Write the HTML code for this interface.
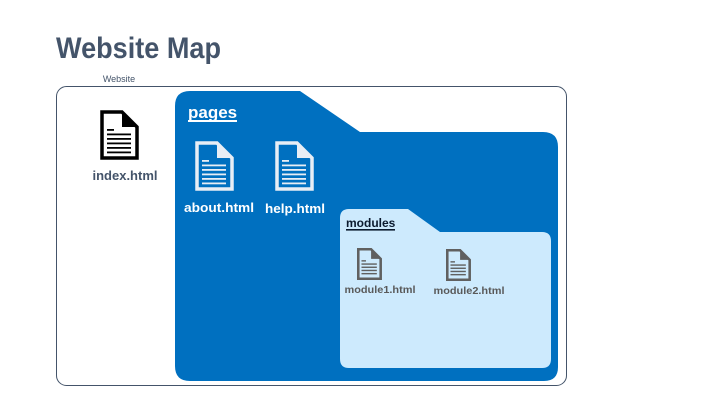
<!DOCTYPE html>
<html><head><meta charset="utf-8"><style>
html,body{margin:0;padding:0;background:#fff;width:720px;height:405px;overflow:hidden}
svg{display:block}
text{font-family:"Liberation Sans",sans-serif;font-weight:bold}
</style></head><body>
<svg width="720" height="405" viewBox="0 0 720 405" xmlns="http://www.w3.org/2000/svg">
<text x="56" y="58" font-size="30" fill="#44546a" textLength="165" lengthAdjust="spacingAndGlyphs">Website Map</text>
<text x="119" y="82" font-size="9" fill="#44546a" text-anchor="middle" style="font-weight:normal">Website</text>
<rect x="56.5" y="86.5" width="510" height="299" rx="10" fill="#fff" stroke="#44546a" stroke-width="1"/>
<path d="M175,106 Q175,91 190,91 H300 L360,132 H543 Q558,132 558,147 V367 Q558,381 544,381 H190 Q175,381 175,366 Z" fill="#0070c0"/>
<text x="188" y="118" font-size="17" fill="#fff">pages</text>
<rect x="188" y="120" width="49" height="2" fill="#fff"/>
<path d="M340,218 Q340,209 349,209 H408 L440,232 H542 Q551,232 551,241 V359 Q551,368 542,368 H349 Q340,368 340,359 Z" fill="#cdeafd"/>
<text x="346" y="227" font-size="12" fill="#0b1a2e">modules</text>
<rect x="346" y="229" width="49" height="1.6" fill="#0b1a2e"/>

<g transform="translate(100,110)">
  <path d="M2,2 H22 L37,17 V48 H2 Z" fill="#fff" stroke="#000" stroke-width="3.5"/>
  <path d="M22,2 V17 H37 Z" fill="#000"/>
  <g fill="#000"><rect x="7" y="19" width="7" height="1.8"/><rect x="7" y="23.5" width="24" height="1.8"/><rect x="7" y="28" width="24" height="1.8"/><rect x="7" y="32.5" width="24" height="1.8"/><rect x="7" y="37" width="24" height="1.8"/><rect x="7" y="41.5" width="24" height="1.8"/></g>
</g>
<g transform="translate(195,141)">
  <path d="M2,2 H22 L37,17 V48 H2 Z" fill="#0070c0" stroke="#e8eef5" stroke-width="3.5"/>
  <path d="M22,2 V17 H37 Z" fill="#e8eef5"/>
  <g fill="#e8eef5"><rect x="7" y="19" width="7" height="1.8"/><rect x="7" y="23.5" width="24" height="1.8"/><rect x="7" y="28" width="24" height="1.8"/><rect x="7" y="32.5" width="24" height="1.8"/><rect x="7" y="37" width="24" height="1.8"/><rect x="7" y="41.5" width="24" height="1.8"/></g>
</g>
<g transform="translate(275,141)">
  <path d="M2,2 H22 L37,17 V48 H2 Z" fill="#0070c0" stroke="#e8eef5" stroke-width="3.5"/>
  <path d="M22,2 V17 H37 Z" fill="#e8eef5"/>
  <g fill="#e8eef5"><rect x="7" y="19" width="7" height="1.8"/><rect x="7" y="23.5" width="24" height="1.8"/><rect x="7" y="28" width="24" height="1.8"/><rect x="7" y="32.5" width="24" height="1.8"/><rect x="7" y="37" width="24" height="1.8"/><rect x="7" y="41.5" width="24" height="1.8"/></g>
</g>
<g transform="translate(357,248) scale(0.64)">
  <path d="M2,2 H22 L37,17 V48 H2 Z" fill="#cdeafd" stroke="#606060" stroke-width="4"/>
  <path d="M22,2 V17 H37 Z" fill="#606060"/>
  <g fill="#606060"><rect x="7" y="19" width="7" height="2.2"/><rect x="7" y="24" width="24" height="2.2"/><rect x="7" y="29" width="24" height="2.2"/><rect x="7" y="34" width="24" height="2.2"/><rect x="7" y="39" width="24" height="2.2"/></g>
</g>
<g transform="translate(446,249) scale(0.64)">
  <path d="M2,2 H22 L37,17 V48 H2 Z" fill="#cdeafd" stroke="#606060" stroke-width="4"/>
  <path d="M22,2 V17 H37 Z" fill="#606060"/>
  <g fill="#606060"><rect x="7" y="19" width="7" height="2.2"/><rect x="7" y="24" width="24" height="2.2"/><rect x="7" y="29" width="24" height="2.2"/><rect x="7" y="34" width="24" height="2.2"/><rect x="7" y="39" width="24" height="2.2"/></g>
</g>

<text x="125" y="180" font-size="13" fill="#44546a" text-anchor="middle">index.html</text>
<text x="219" y="212" font-size="13" fill="#fff" text-anchor="middle" textLength="70" lengthAdjust="spacingAndGlyphs">about.html</text>
<text x="295" y="213" font-size="13" fill="#fff" text-anchor="middle" textLength="60" lengthAdjust="spacingAndGlyphs">help.html</text>
<text x="380" y="293" font-size="10.5" fill="#595959" text-anchor="middle" textLength="71" lengthAdjust="spacingAndGlyphs">module1.html</text>
<text x="469" y="294" font-size="10.5" fill="#595959" text-anchor="middle" textLength="71" lengthAdjust="spacingAndGlyphs">module2.html</text>
</svg>
</body></html>
